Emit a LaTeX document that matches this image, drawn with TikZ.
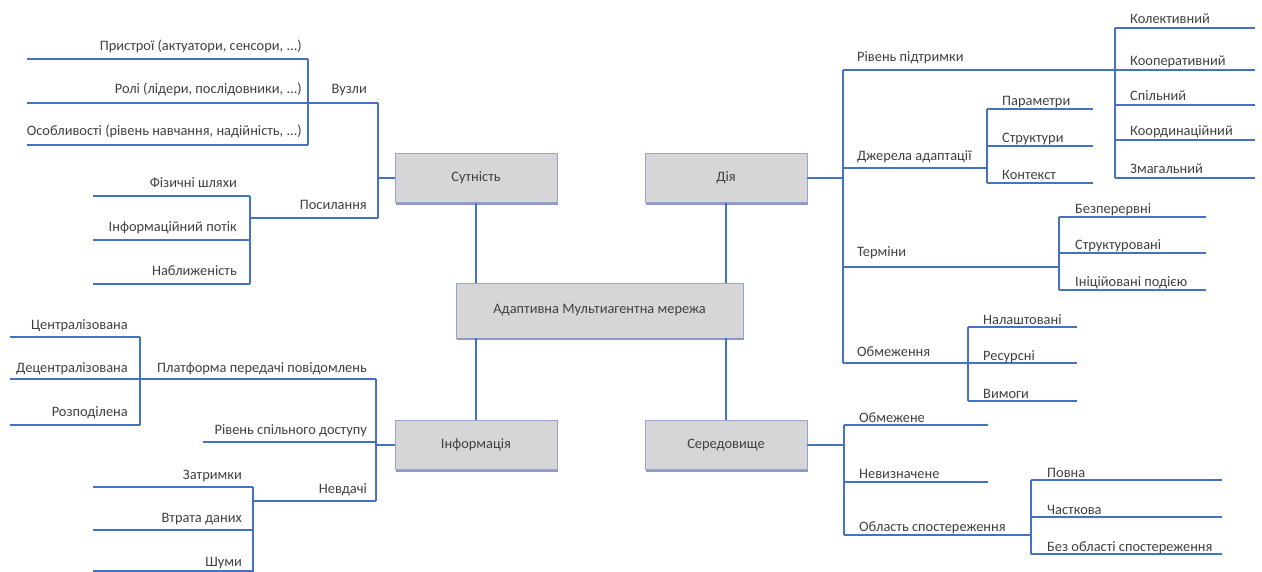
\documentclass[tikz,border=0pt]{standalone}
\usepackage{fontspec}
\setmainfont{Carlito}
\definecolor{lnblue}{RGB}{68,114,196}
\definecolor{boxfill}{RGB}{214,214,216}
\definecolor{boxline}{RGB}{150,165,200}
\definecolor{boxshadow}{RGB}{140,155,195}
\definecolor{txt}{RGB}{64,64,64}
\newcommand{\lblfont}{\fontsize{14.4}{16}\selectfont}
\begin{document}
\begin{tikzpicture}[x=1pt,y=-1pt,
  br/.style={draw=lnblue, line width=1.5pt},
  box/.style={draw=boxline, line width=0.8pt, fill=boxfill, minimum width=162pt,
    minimum height=49pt, inner sep=2pt, text=txt, font=\lblfont},
  shade/.style={draw=boxshadow, line width=2pt},
  lbl/.style={anchor=base east, inner sep=0pt, text=txt, font=\lblfont},
  lbr/.style={anchor=base west, inner sep=0pt, text=txt, font=\lblfont}]
\useasboundingbox[fill=white] (0,0) rectangle (1262,572);

% main boxes
\node[box] (sut) at (476,178) {Сутність};
\node[box] (dia) at (726,178) {Дія};
\node[box, minimum width=287pt, minimum height=55pt] (main) at (599.5,310.5) {Адаптивна Мультиагентна мережа};
\node[box] (inf) at (476,445) {Інформація};
\node[box] (ser) at (726,445) {Середовище};
\foreach \b in {sut,dia,main,inf,ser}{
  \draw[shade] ([xshift=1pt,yshift=-1pt]\b.south west) -- ([xshift=1pt,yshift=-1pt]\b.south east);
}

\draw[br] (sut.south) -- (sut.south |- main.north);
\draw[br] (dia.south) -- (dia.south |- main.north);
\draw[br] (main.south -| inf.north) -- (inf.north);
\draw[br] (main.south -| ser.north) -- (ser.north);

% ---------- Сутність ----------
\coordinate (sutbus) at (378,178);
\draw[br] (sut.west) -- (sutbus);
\draw[br] (378,103) -- (378,218);
\draw[br] (27,103) -- (378,103);
\draw[br] (308,59) -- (308,145);
\draw[br] (27,59) -- (308,59);
\draw[br] (27,145) -- (308,145);
\draw[br] (250,218) -- (378,218);
\draw[br] (250,196) -- (250,284);
\draw[br] (93,196) -- (250,196);
\draw[br] (93,240) -- (250,240);
\draw[br] (93,284) -- (250,284);

\node[lbl] (pr) at (302,51) {Пристрої (актуатори, сенсори, ...)};
\node[lbl] (rol) at (302,94) {Ролі (лідери, послідовники, ...)};
\node[lbl] (os) at (302,136) {Особливості (рівень навчання, надійність, ...)};
\node[lbl] (vuz) at (367,94) {Вузли};
\node[lbl] (pos) at (367,210) {Посилання};
\node[lbl] (fiz) at (237,188) {Фізичні шляхи};
\node[lbl] (ipot) at (237,232) {Інформаційний потік};
\node[lbl] (nab) at (237,276) {Наближеність};

% ---------- Інформація ----------
\coordinate (infbus) at (376,445);
\draw[br] (inf.west) -- (infbus);
\draw[br] (376,379) -- (376,501);
\draw[br] (10,379) -- (376,379);
\draw[br] (140,337) -- (140,425);
\draw[br] (10,337) -- (140,337);
\draw[br] (10,425) -- (140,425);
\draw[br] (203,442) -- (376,442);
\draw[br] (253,501) -- (376,501);
\draw[br] (253,487) -- (253,572);
\draw[br] (93,487) -- (253,487);
\draw[br] (93,530) -- (253,530);
\draw[br] (93,571) -- (253,571);

\node[lbl] (cen) at (128,330) {Централізована};
\node[lbl] (dec) at (128,372) {Децентралізована};
\node[lbl] (roz) at (128,416) {Розподілена};
\node[lbl] (plat) at (367,372) {Платформа передачі повідомлень};
\node[lbl] (riv) at (367,434) {Рівень спільного доступу};
\node[lbl] (nev) at (367,493) {Невдачі};
\node[lbl] (zat) at (242,479) {Затримки};
\node[lbl] (vtr) at (242,522) {Втрата даних};
\node[lbl] (shu) at (242,566) {Шуми};

% ---------- Дія ----------
\coordinate (diabus) at (843,178);
\draw[br] (dia.east) -- (diabus);
\draw[br] (843,70) -- (843,363);
\draw[br] (843,70) -- (1255,70);
\draw[br] (1115,28) -- (1115,178);
\draw[br] (1115,28) -- (1255,28);
\draw[br] (1115,105) -- (1255,105);
\draw[br] (1115,140) -- (1255,140);
\draw[br] (1115,178) -- (1255,178);
\draw[br] (843,168) -- (987,168);
\draw[br] (987,109) -- (987,183);
\draw[br] (987,109) -- (1093,109);
\draw[br] (987,146) -- (1093,146);
\draw[br] (987,183) -- (1093,183);
\draw[br] (843,267) -- (1059,267);
\draw[br] (1059,217) -- (1059,290);
\draw[br] (1059,217) -- (1206,217);
\draw[br] (1059,253) -- (1206,253);
\draw[br] (1059,290) -- (1206,290);
\draw[br] (843,363) -- (968,363);
\draw[br] (968,327) -- (968,401);
\draw[br] (968,327) -- (1077,327);
\draw[br] (968,363) -- (1077,363);
\draw[br] (968,401) -- (1077,401);

\node[lbr] (rp) at (857,62) {Рівень підтримки};
\node[lbr] (kol) at (1130,24) {Колективний};
\node[lbr] (koop) at (1130,66) {Кооперативний};
\node[lbr] (spil) at (1130,101) {Спільний};
\node[lbr] (koord) at (1130,136) {Координаційний};
\node[lbr] (zmag) at (1130,174) {Змагальний};
\node[lbr] (dzh) at (857,161) {Джерела адаптації};
\node[lbr] (param) at (1002,106) {Параметри};
\node[lbr] (strk) at (1002,143) {Структури};
\node[lbr] (kont) at (1002,180) {Контекст};
\node[lbr] (term) at (857,257) {Терміни};
\node[lbr] (bez) at (1075,214) {Безперервні};
\node[lbr] (strv) at (1075,250) {Структуровані};
\node[lbr] (inic) at (1075,287) {Ініційовані подією};
\node[lbr] (obm) at (857,356) {Обмеження};
\node[lbr] (nal) at (983,324) {Налаштовані};
\node[lbr] (res) at (983,360) {Ресурсні};
\node[lbr] (vym) at (983,398) {Вимоги};

% ---------- Середовище ----------
\coordinate (serbus) at (844,445);
\draw[br] (ser.east) -- (serbus);
\draw[br] (844,425) -- (844,535);
\draw[br] (844,425) -- (988,425);
\draw[br] (844,482) -- (988,482);
\draw[br] (844,535) -- (1031,535);
\draw[br] (1031,480) -- (1031,554);
\draw[br] (1031,480) -- (1222,480);
\draw[br] (1031,517) -- (1222,517);
\draw[br] (1031,554) -- (1222,554);

\node[lbr] (obmz) at (859,422) {Обмежене};
\node[lbr] (nevz) at (859,478) {Невизначене};
\node[lbr] (obl) at (859,531) {Область спостереження};
\node[lbr] (povn) at (1047,477) {Повна};
\node[lbr] (chas) at (1047,514) {Часткова};
\node[lbr] (bezo) at (1047,551) {Без області спостереження};
\end{tikzpicture}
\end{document}
